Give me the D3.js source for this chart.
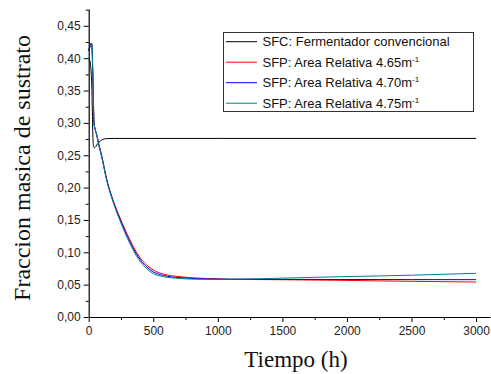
<!DOCTYPE html>
<html><head><meta charset="utf-8">
<script src="https://cdn.jsdelivr.net/npm/d3@7"></script>
<style>body{margin:0;background:#fff}svg{display:block}</style>
</head><body>
<svg id="c" width="491" height="374"></svg>
<script>
// ---- data ----
const xTicks = [0, 500, 1000, 1500, 2000, 2500, 3000];
const yTicks = [0, 0.05, 0.10, 0.15, 0.20, 0.25, 0.30, 0.35, 0.40, 0.45];
const seriesNames = ["SFC: Fermentador convencional", "SFP: Area Relativa 4.65", "SFP: Area Relativa 4.70", "SFP: Area Relativa 4.75"];
const seriesColors = ["#000000", "#ff0000", "#0000ff", "#008080"];

const tBlack = [0, 8, 14, 20, 25, 29, 33, 38, 45, 55, 70, 90, 110, 140, 200, 1000, 2000, 3000];
const vBlack = [0.400, 0.397, 0.390, 0.375, 0.350, 0.310, 0.275, 0.263, 0.2615, 0.2635, 0.268, 0.272, 0.2745, 0.2757, 0.276, 0.276, 0.276, 0.276];

const tSFP = [0, 10, 20, 25, 30, 35, 41, 49, 60, 80, 100, 139, 190, 242, 320, 384, 449, 500, 578, 707, 836, 1000, 1094, 1500, 1945, 2254, 2500, 3000];
const v465 = [0.412, 0.418, 0.4235, 0.420, 0.390, 0.350, 0.300, 0.291, 0.283, 0.266, 0.250, 0.2135, 0.180, 0.1535, 0.119, 0.0958, 0.0803, 0.0726, 0.0664, 0.0623, 0.0602, 0.0590, 0.0584, 0.0576, 0.0567, 0.0558, 0.0552, 0.0540];
const v470 = [0.412, 0.418, 0.4235, 0.420, 0.390, 0.350, 0.300, 0.291, 0.283, 0.265, 0.249, 0.2125, 0.1785, 0.1515, 0.116, 0.0928, 0.0775, 0.0698, 0.0643, 0.0608, 0.0593, 0.0586, 0.0583, 0.0581, 0.0580, 0.0579, 0.0578, 0.0577];
const v475 = [0.412, 0.418, 0.4235, 0.420, 0.390, 0.350, 0.300, 0.291, 0.283, 0.264, 0.248, 0.211, 0.177, 0.149, 0.113, 0.0900, 0.0748, 0.0672, 0.0624, 0.0595, 0.0584, 0.0581, 0.0583, 0.0600, 0.0623, 0.0635, 0.0646, 0.0675];

const series = [
  {t: tBlack, v: vBlack},
  {t: tSFP, v: v465},
  {t: tSFP, v: v470},
  {t: tSFP, v: v475}
];

// ---- chart ----
const svg = d3.select("#c");
const x = d3.scaleLinear().domain([0, 3108]).range([88.7, 490]);
const y = d3.scaleLinear().domain([0, 0.476]).range([317, 9]);
const fmt = d => d3.format(".2f")(d).replace(".", ",");

// lines
const line = d3.line().x(d => x(d[0])).y(d => y(d[1])).curve(d3.curveMonotoneX);
series.forEach((s, i) => {
  svg.append("path")
    .datum(s.t.map((t, j) => [t, s.v[j]]))
    .attr("fill", "none")
    .attr("stroke", seriesColors[i])
    .attr("stroke-width", 1)
    .attr("d", line);
});

// axes
const xAxis = svg.append("g").attr("transform", "translate(0,317)")
  .call(d3.axisBottom(x).tickValues(xTicks).tickFormat(d3.format("d")).tickSize(5).tickPadding(4).tickSizeOuter(0));
const xMinor = svg.append("g").attr("transform", "translate(0,317)")
  .call(d3.axisBottom(x).tickValues(d3.range(250, 3001, 500)).tickSize(3).tickFormat("").tickSizeOuter(0));
const yAxis = svg.append("g").attr("transform", "translate(88.7,0)")
  .call(d3.axisLeft(y).tickValues(yTicks).tickFormat(fmt).tickSize(5).tickPadding(3).tickSizeOuter(0));
const yMinor = svg.append("g").attr("transform", "translate(88.7,0)")
  .call(d3.axisLeft(y).tickValues(d3.range(0.025, 0.476, 0.05)).tickSize(3).tickFormat("").tickSizeOuter(0));

[xAxis, xMinor, yAxis, yMinor].forEach(g => {
  g.selectAll("path").attr("stroke", "#000").attr("stroke-width", 1.2);
  g.selectAll("line").attr("stroke", "#000").attr("stroke-width", 1);
  g.selectAll("text").attr("font-family", "Liberation Sans, Arial, sans-serif")
    .attr("font-size", 12).attr("fill", "#222");
});
xMinor.select("path").remove();
yMinor.select("path").remove();

// axis titles
svg.append("text").attr("x", 296).attr("y", 367)
  .attr("text-anchor", "middle")
  .attr("font-family", "Liberation Serif, Times New Roman, serif")
  .attr("font-size", 23).attr("fill", "#111")
  .text("Tiempo (h)");
svg.append("text").attr("transform", "translate(30,168) rotate(-90)")
  .attr("text-anchor", "middle")
  .attr("font-family", "Liberation Serif, Times New Roman, serif")
  .attr("font-size", 24).attr("fill", "#111")
  .text("Fraccion masica de sustrato");

// legend
const lg = svg.append("g");
lg.append("rect").attr("x", 223.5).attr("y", 32.5).attr("width", 250).attr("height", 79)
  .attr("fill", "#fff").attr("stroke", "#333").attr("stroke-width", 1);
seriesNames.forEach((name, i) => {
  const cy = 41.7 + i * 20.5;
  lg.append("line").attr("x1", 226).attr("x2", 257).attr("y1", cy).attr("y2", cy)
    .attr("stroke", seriesColors[i]).attr("stroke-width", 1);
  const t = lg.append("text").attr("x", 262.5).attr("y", cy + 4.6)
    .attr("font-family", "Liberation Sans, Arial, sans-serif")
    .attr("font-size", 13).attr("fill", "#111");
  if (i === 0) {
    t.text(name);
  } else {
    t.append("tspan").text(name + "m");
    t.append("tspan").attr("dy", -5).attr("font-size", 8).text("-1");
  }
});
</script>
</body></html>
